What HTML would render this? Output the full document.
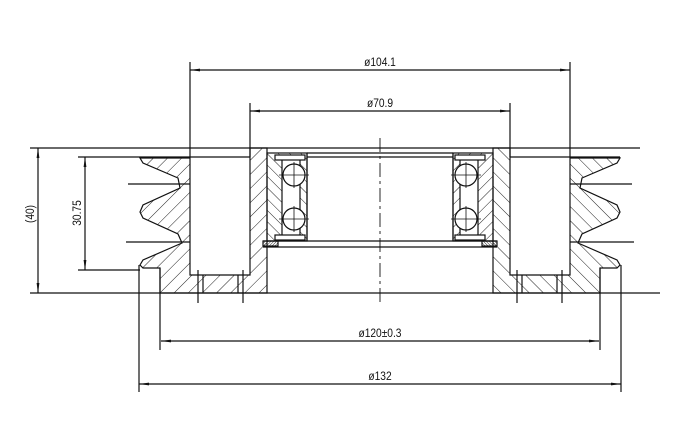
<!DOCTYPE html>
<html><head><meta charset="utf-8"><style>
html,body{margin:0;padding:0;background:#fff;}
svg{display:block}
text{font-family:"Liberation Sans",sans-serif;font-size:12px;fill:#111}
</style></head><body>
<svg width="700" height="439" viewBox="0 0 700 439" xmlns="http://www.w3.org/2000/svg">
<defs>
<pattern id="h" width="10" height="10" patternUnits="userSpaceOnUse" patternTransform="rotate(45)">
<line x1="0" y1="0" x2="0" y2="10" stroke="#222" stroke-width="1"/>
</pattern>
<pattern id="h2" width="8" height="8" patternUnits="userSpaceOnUse" patternTransform="rotate(-45)">
<line x1="0" y1="0" x2="0" y2="8" stroke="#222" stroke-width="1"/>
</pattern>
<pattern id="d" width="2" height="2" patternUnits="userSpaceOnUse" patternTransform="rotate(45)">
<line x1="0" y1="0" x2="0" y2="2" stroke="#333" stroke-width="1"/>
</pattern>
<marker id="a" viewBox="0 0 10 4" refX="10" refY="2" markerWidth="10" markerHeight="4" markerUnits="userSpaceOnUse" orient="auto-start-reverse">
<path d="M0,0.6 L10,2 L0,3.4z" fill="#111"/>
</marker>
<g id="half" stroke="#111" stroke-width="1.2" fill="none">
<path d="M140,158 L190,158 L190,275 L250,275 L250,148 L267,148 L267,293 L160,293 L160,268 L143,268 L140,265 L143,260 L182,243 L178,234 L143,218 L140,212 L143,205 L180,188 L178,178 L143,163 Z" fill="url(#h)"/>
<line x1="198" y1="270" x2="198" y2="303"/>
<line x1="203" y1="275" x2="203" y2="293"/>
<line x1="238" y1="275" x2="238" y2="293"/>
<line x1="243" y1="270" x2="243" y2="303"/>
<rect x="267" y="153" width="40" height="88" fill="url(#h2)"/>
<rect x="282" y="160" width="18" height="75" fill="#fff" stroke="none"/>
<line x1="282" y1="160" x2="282" y2="235"/><line x1="300" y1="160" x2="300" y2="235"/>
<rect x="275" y="155" width="30" height="5" fill="#fff"/>
<rect x="275" y="235" width="30" height="5" fill="#fff"/>
<circle cx="294" cy="175" r="11" fill="#fff"/>
<circle cx="294" cy="219" r="11" fill="#fff"/>
<line x1="279" y1="175" x2="309" y2="175" stroke-width="0.8"/>
<line x1="294" y1="162" x2="294" y2="188" stroke-width="0.8"/>
<line x1="279" y1="219" x2="309" y2="219" stroke-width="0.8"/>
<line x1="294" y1="206" x2="294" y2="232" stroke-width="0.8"/>
<rect x="263" y="241" width="15" height="5" fill="url(#d)"/>
<line x1="160" y1="268" x2="160" y2="350"/>
<line x1="139" y1="265" x2="139" y2="392"/>
<line x1="128" y1="184" x2="190" y2="184"/>
<line x1="126" y1="242" x2="190" y2="242"/>
</g>
</defs>
<use href="#half"/>
<use href="#half" transform="translate(760,0) scale(-1,1)"/>
<g stroke="#111" stroke-width="1.2" fill="none">
<line x1="30" y1="148" x2="640" y2="148"/>
<line x1="78" y1="157" x2="190" y2="157"/>
<line x1="570" y1="157" x2="620" y2="157"/>
<line x1="190" y1="157" x2="250" y2="157"/>
<line x1="510" y1="157" x2="570" y2="157"/>
<line x1="307" y1="153" x2="453" y2="153"/>
<line x1="307" y1="157" x2="453" y2="157"/>
<line x1="307" y1="153" x2="307" y2="241"/>
<line x1="453" y1="153" x2="453" y2="241"/>
<line x1="263" y1="241" x2="497" y2="241"/>
<line x1="263" y1="247" x2="497" y2="247"/>
<line x1="78" y1="270" x2="140" y2="270"/>
<line x1="30" y1="293" x2="660" y2="293"/>
<line x1="380" y1="138" x2="380" y2="302" stroke-dasharray="14,4,3,4" stroke-width="0.9"/>
<line x1="190" y1="62" x2="190" y2="157"/>
<line x1="570" y1="62" x2="570" y2="157"/>
<line x1="250" y1="103" x2="250" y2="157"/>
<line x1="510" y1="103" x2="510" y2="157"/>
<line x1="190" y1="70" x2="570" y2="70" marker-start="url(#a)" marker-end="url(#a)"/>
<line x1="250" y1="111" x2="510" y2="111" marker-start="url(#a)" marker-end="url(#a)"/>
<line x1="161" y1="341" x2="599" y2="341" marker-start="url(#a)" marker-end="url(#a)"/>
<line x1="139" y1="384" x2="621" y2="384" marker-start="url(#a)" marker-end="url(#a)"/>
<line x1="38" y1="148" x2="38" y2="293" marker-start="url(#a)" marker-end="url(#a)"/>
<line x1="85" y1="157" x2="85" y2="270" marker-start="url(#a)" marker-end="url(#a)"/>
</g>
<text x="380" y="66" text-anchor="middle" transform="translate(380,0) scale(0.85,1) translate(-380,0)">ø104.1</text>
<text x="380" y="107" text-anchor="middle" transform="translate(380,0) scale(0.85,1) translate(-380,0)">ø70.9</text>
<text x="380" y="337" text-anchor="middle" transform="translate(380,0) scale(0.85,1) translate(-380,0)">ø120±0.3</text>
<text x="380" y="380" text-anchor="middle" transform="translate(380,0) scale(0.85,1) translate(-380,0)">ø132</text>
<text transform="translate(34,214) rotate(-90) scale(0.85,1)" text-anchor="middle">(40)</text>
<text transform="translate(81,213) rotate(-90) scale(0.85,1)" text-anchor="middle">30.75</text>
</svg>
</body></html>
